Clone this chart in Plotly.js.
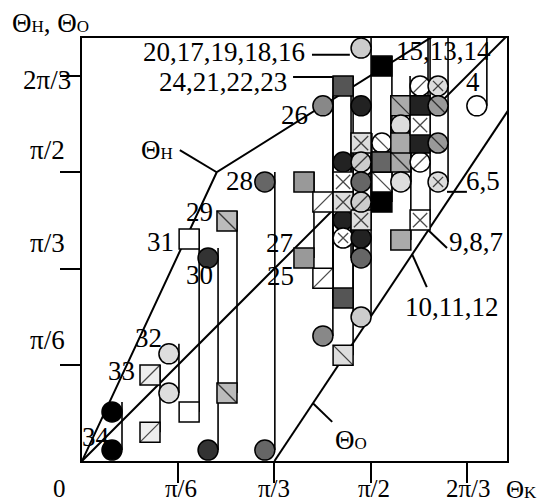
<!DOCTYPE html>
<html><head><meta charset="utf-8">
<script src="https://cdn.plot.ly/plotly-3.0.1.min.js"></script>
<style>html,body{margin:0;padding:0;background:#fff}</style>
</head><body><div id="chart" style="width:538px;height:504px"></div>
<script>
// All angles in degrees (pi/6 = 30).
const itemIds = ['34','33','32','31','30','29','28','27','25','26','24','21','22','23','20','17','19','18','16','15','13','14','10','11','12','9','8','7','6','5','4'];
const thetaK  = [9.35,21.2,27.1,33.4,39.3,45.2,57.0,69.2,75.1,75.1,81.4,81.4,81.4,81.4,87.0,87.0,87.0,87.0,87.0,93.5,93.5,93.5,99.4,99.4,99.4,105.4,105.4,105.4,111.0,111.0,123.1];
const thetaH  = [15.3,26.8,33.4,69.2,63.3,74.8,87.0,87.0,80.7,110.7,116.9,93.2,87.0,80.7,128.7,110.7,99.1,93.2,87.0,123.1,99.1,93.2,110.7,104.7,99.1,116.9,110.7,104.7,116.9,110.7,null];
const thetaO  = [3.4,9.0,21.2,15.3,3.4,21.2,3.4,63.3,57.0,39.0,50.8,75.1,69.5,33.0,44.9,69.5,75.1,80.7,63.3,80.7,87.0,93.2,93.2,87.0,68.9,93.2,99.1,75.1,87.0,99.1,110.7];
const shapeH  = ['c','s','c','s','c','s','c','s','s','c','s','c','s','s','c','c','s','c','c','s','c','s','s','c','s','c','s','s','c','c','c'];
const shapeO  = ['c','s','c','s','c','s','c','s','s','c','s','c','c','s','c','c','s','c','c','s','s','s','s','c','s','c','s','s','c','c','c'];
const fills   = ['#000','#eee','#ddd','#fff','#333','#bbb','#666','#999','#fff','#888','#555','#222','#fff','#ddd','#ccc','#222','#ddd','#ccc','#666','#000','#fff','#666','#aaa','#ddd','#aaa','#fff','#222','#fff','#ddd','#999','#fff'];
const markH   = ['','/','','','','\\','','','/','','','','x','x','','','x','/','','','\\','','\\','','','/','','x','x','\\',''];
const markO   = ['','/','','','','\\','','','/','','','','x','\\','','','x','/','','','\\','','\\','','','/','','x','x','\\',''];
const lineSide= [1,1,1,1,1,1,1,1,1,1,0,1,-1,1,1,-1,1,-1,-1,1,-1,1,-1,1,1,-1,-1,1,1,-1,1];
const toTop   = [0,0,0,0,0,0,0,0,0,0,0,0,0,0,0,0,0,0,0,0,0,0,0,0,0,0,0,1,1,1,1];

// guide curves
const curveHK = [0, 42, 112];   const curveHV = [0, 90, 134];
const diagK   = [0, 135];       const diagV   = [0, 135];
const curveOK = [60, 135];      const curveOV = [0, 112.5];

// labels inside / around the plot
const SUBSIZE = 17;
const sub = s => '<span style="font-size:' + SUBSIZE + 'px">' + s + '</span>';
const labelTexts = ['20,17,19,18,16','24,21,22,23','15,13,14','4','26','28','29','31','30','27','25','32','33','34','6,5','9,8,7','10,11,12','Θ'+sub('H'),'Θ'+sub('O')];
const labelK = [44.3,44.1,112.8,121.9,66.4,49.2,36.6,24.5,36.6,61.7,61.9,20.8,12.3,4.4,125.1,122.7,115.5,23.5,83.8];
const labelV = [127.5,118.1,127.8,118.1,107.9,87.3,77.7,68.4,58.0,67.9,57.8,38.2,28.2,7.4,87.4,68.2,48.1,96.9,6.5];
// leader lines [k0,v0,k1,v1]
const leaders = [[30.5,96.9,42,90],[72,18,78,12.2],[107.9,72.0,113.8,66.4],[102.9,64.5,107.5,54.2],[113.8,83.9,120,83.9],[71.7,126.6,83.5,126.6],[65.8,119.7,78.2,119.7]];

// tick labels
const xTickText = ['0','π/6','π/3','π/2','2π/3'];
const xTickK = [-6.9,30.8,59.9,91.0,120.6];
const yTickText = ['2π/3','π/2','π/3','π/6'];
const yTickV = [118.8,96.9,68.0,37.7];
const xTitle = 'Θ' + sub('K');
const yTitle = 'Θ' + sub('H') + ', Θ' + sub('O');

const FONT = 'Liberation Serif, Times New Roman, serif';
const FS = 27;
const HALF = 3.12; // half marker width in degrees
const XMAX = 132.5, YMAX = 131.85;

// vertical connectors
const vx = [], vy = [];
for (let i = 0; i < thetaK.length; i++) {
  const top = toTop[i] ? YMAX + 2 : thetaH[i] + HALF;
  const sides = lineSide[i] === 0 ? [-1, 1] : [lineSide[i]];
  sides.forEach(s => { vx.push(thetaK[i] + s * HALF, thetaK[i] + s * HALF, null); vy.push(thetaO[i], top, null); });
}

// markers
const mx = [], my = [], msym = [], mcol = [];
const ov = {x: {x: [], y: [], s: []}, '/': {x: [], y: [], s: []}, '\\': {x: [], y: [], s: []}};
const SZ = 20;
function addMarker(k, v, shp, col, mk) {
  if (v === null) return;
  mx.push(k); my.push(v); msym.push(shp === 'c' ? 'circle' : 'square'); mcol.push(col);
  if (mk) {
    const o = ov[mk];
    o.x.push(k); o.y.push(v);
    if (mk === 'x') o.s.push(shp === 'c' ? SZ * 0.707 / 1.4 : SZ / 1.4);
    else o.s.push(shp === 'c' ? SZ * 0.707 : SZ);
  }
}
for (let i = 0; i < thetaK.length; i++) {
  addMarker(thetaK[i], thetaH[i], shapeH[i], fills[i], markH[i]);
  addMarker(thetaK[i], thetaO[i], shapeO[i], fills[i], markO[i]);
}

const lineStyle = {color: '#000', width: 2};
const traces = [
  {x: vx, y: vy, mode: 'lines', line: {color: '#000', width: 1.6}, hoverinfo: 'skip'},
  {x: curveHK, y: curveHV, mode: 'lines', line: lineStyle},
  {x: diagK, y: diagV, mode: 'lines', line: lineStyle},
  {x: curveOK, y: curveOV, mode: 'lines', line: lineStyle},
  {x: mx, y: my, mode: 'markers', marker: {size: SZ, symbol: msym, color: mcol, line: {color: '#000', width: 1.5}}},
  {x: ov.x.x, y: ov.x.y, mode: 'markers', marker: {size: ov.x.s, symbol: 'x-thin', color: '#000', line: {color: '#000', width: 1.3}}},
  {x: ov['/'].x, y: ov['/'].y, mode: 'markers', marker: {size: ov['/'].s, symbol: 'line-ne', color: '#000', line: {color: '#000', width: 1.3}}},
  {x: ov['\\'].x, y: ov['\\'].y, mode: 'markers', marker: {size: ov['\\'].s, symbol: 'line-nw', color: '#000', line: {color: '#000', width: 1.3}}}
];

const annotations = [];
const ann = (t, x, y, fs) => annotations.push({text: t, x: x / XMAX, y: y / YMAX, xref: 'paper', yref: 'paper',
  xanchor: 'center', yanchor: 'middle', borderpad: 0, showarrow: false, font: {family: FONT, size: fs || FS, color: '#000'}});
labelTexts.forEach((t, i) => ann(t, labelK[i], labelV[i]));
xTickText.forEach((t, i) => ann(t, xTickK[i], -8.7, 25));
yTickText.forEach((t, i) => ann(t, -10.8, yTickV[i]));
ann(xTitle, 137.1, -9.0, 25);
ann(yTitle, -9.8, 136.4);

const shapes = leaders.map(l => ({type: 'line', xref: 'x', yref: 'y', x0: l[0], y0: l[1], x1: l[2], y1: l[3], line: {color: '#000', width: 2}}));

const axisCommon = {showgrid: false, zeroline: false, showline: true, linecolor: '#000', linewidth: 2, mirror: true,
  ticks: 'outside', ticklen: 20, tickwidth: 2, tickcolor: '#000', tickvals: [30, 60, 90, 120], showticklabels: false};

const layout = {
  width: 538, height: 504,
  margin: {l: 82, r: 31, t: 38, b: 43},
  paper_bgcolor: '#fff', plot_bgcolor: '#fff',
  showlegend: false,
  xaxis: Object.assign({range: [0, XMAX]}, axisCommon),
  yaxis: Object.assign({range: [0, YMAX]}, axisCommon),
  annotations: annotations,
  shapes: shapes
};
Plotly.newPlot('chart', traces, layout, {staticPlot: true});
</script></body></html>
